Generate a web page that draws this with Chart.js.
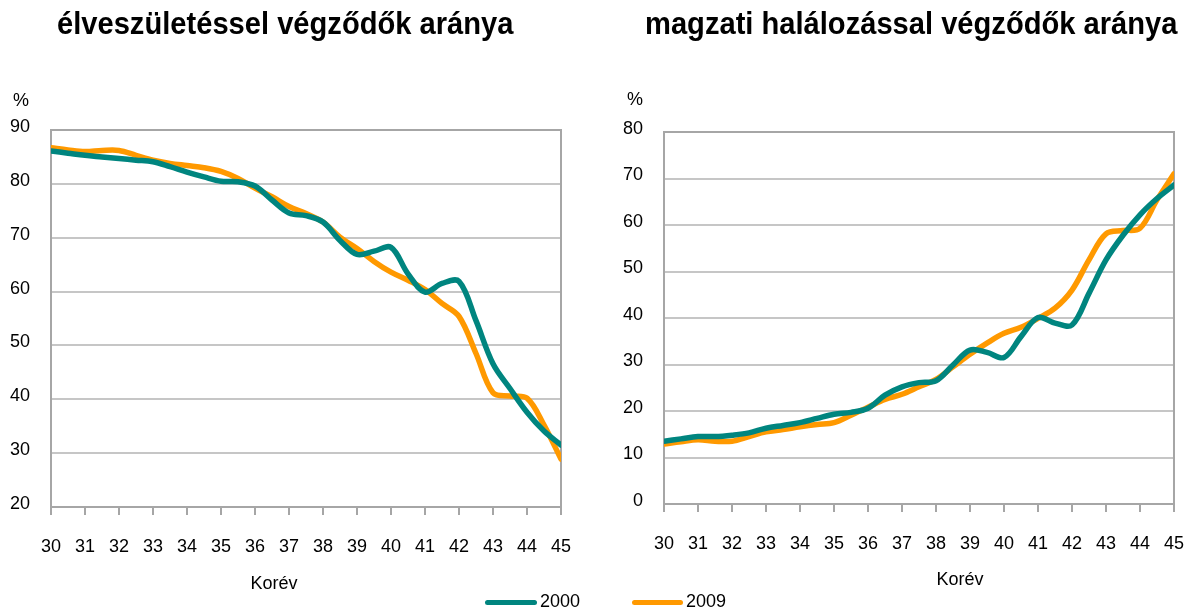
<!DOCTYPE html>
<html>
<head>
<meta charset="utf-8">
<script src="https://cdn.jsdelivr.net/npm/chart.js@4.4.0/dist/chart.umd.min.js"></script>
<style>
body { margin: 0; background: #fff; font-family: "Liberation Sans", Arial, sans-serif; color: #000; }
#wrap { position: relative; width: 1195px; height: 610px; overflow: hidden; }
canvas { position: absolute; top: 0; }
.t { position: absolute; white-space: nowrap; }
.title { font-size: 32px; font-weight: bold; line-height: 32px; top: 7px; transform: scaleX(0.91); transform-origin: 0 0; }
.lbl { font-size: 18px; line-height: 18px; }
.c { width: 100px; text-align: center; }
.key { position: absolute; height: 5px; border-radius: 3px; }
</style>
</head>
<body>
<div id="wrap">
  <canvas id="births" width="600" height="610" style="left:0"></canvas>
  <canvas id="fetal" width="605" height="610" style="left:600px"></canvas>

  <div class="t title" style="left:57px">élveszületéssel végződők aránya</div>
  <div class="t title" style="left:645px">magzati halálozással végződők aránya</div>

  <div class="t lbl" style="left:13px; top:91px">%</div>
  <div class="t lbl" style="left:627px; top:90px">%</div>

  <div class="t lbl c" style="left:224px; top:574px">Korév</div>
  <div class="t lbl c" style="left:910px; top:570px">Korév</div>

  <div class="key" style="left:485px; top:600px; width:52px; background:#00857f"></div>
  <div class="t lbl" style="left:540px; top:592px">2000</div>
  <div class="key" style="left:632px; top:600px; width:51px; background:#ff9900"></div>
  <div class="t lbl" style="left:686px; top:592px">2009</div>
</div>

<script>
// age of mother (years), read at half-year steps
var ages = [30, 30.5, 31, 31.5, 32, 32.5, 33, 33.5, 34, 34.5, 35, 35.5, 36, 36.5, 37, 37.5,
            38, 38.5, 39, 39.5, 40, 40.5, 41, 41.5, 42, 42.5, 43, 43.5, 44, 44.5, 45];
var xTicks = [30, 31, 32, 33, 34, 35, 36, 37, 38, 39, 40, 41, 42, 43, 44, 45];
var seriesNames = ['2000', '2009'];

// share of pregnancies ending in live birth, %
var birth2000 = [86.1, 85.7, 85.3, 85.0, 84.7, 84.4, 84.1, 83.2, 82.2, 81.3, 80.5, 80.4, 79.6, 77.0, 74.6, 74.1,
                 72.9, 69.5, 66.9, 67.5, 68.2, 63.3, 59.9, 61.5, 61.9, 54.6, 46.6, 42.0, 37.6, 34.1, 31.5];
var birth2009 = [86.7, 86.3, 86.0, 86.2, 86.2, 85.3, 84.4, 83.8, 83.4, 83.0, 82.3, 81.0, 79.2, 77.6, 75.8, 74.5,
                 72.9, 70.1, 68.0, 65.6, 63.6, 62.1, 60.4, 57.8, 55.4, 48.5, 41.2, 40.6, 40.2, 35.2, 28.9];

// share of pregnancies ending in fetal death, %
var fetal2000 = [13.5, 14.0, 14.5, 14.5, 14.8, 15.3, 16.3, 16.9, 17.5, 18.4, 19.3, 19.7, 20.6, 23.4, 25.2, 26.1,
                 26.5, 29.9, 33.1, 32.6, 31.5, 36.0, 40.1, 38.9, 38.5, 45.3, 52.5, 57.8, 62.2, 65.7, 68.6];
var fetal2009 = [12.9, 13.4, 13.8, 13.5, 13.5, 14.5, 15.5, 16.0, 16.6, 17.1, 17.5, 19.1, 20.8, 22.5, 23.6, 25.2,
                 26.8, 29.5, 32.2, 34.6, 36.7, 38.0, 39.9, 42.1, 46.0, 52.5, 58.1, 58.8, 59.3, 65.4, 71.0];

var colors = ['#00857f', '#ff9900'];

function pairs(values) {
    return values.map((v, i) => ({ x: ages[i], y: v }));
}

// grey frame round the plot area, under the lines
var framePlugin = {
    id: 'frame',
    beforeDatasetsDraw(chart) {
        let a = chart.chartArea;
        let ctx = chart.ctx;
        ctx.save();
        ctx.strokeStyle = '#a6a6a6';
        ctx.lineWidth = 2;
        ctx.strokeRect(a.left, a.top, a.right - a.left, a.bottom - a.top);
        ctx.restore();
    }
};

function makeChart(id, series, yMin, yMax, yWidth, pad) {
    new Chart(document.getElementById(id), {
        type: 'line',
        data: {
            datasets: series.map((s, i) => ({
                label: seriesNames[i],
                data: pairs(s),
                borderColor: colors[i],
                borderWidth: 5.5,
                pointRadius: 0,
                tension: 0.35,
                borderCapStyle: 'round',
                borderJoinStyle: 'round'
            }))
        },
        options: {
            responsive: false,
            animation: false,
            events: [],
            layout: { padding: pad },
            plugins: { legend: { display: false }, tooltip: { enabled: false } },
            scales: {
                x: {
                    type: 'linear',
                    min: 30,
                    max: 45,
                    afterFit: s => { s.height = 60; },
                    afterBuildTicks: s => { s.ticks = xTicks.map(v => ({ value: v })); },
                    grid: { drawOnChartArea: false, drawTicks: true, tickLength: 8, color: '#a6a6a6', lineWidth: 2 },
                    border: { color: '#a6a6a6', width: 2 },
                    ticks: { padding: 21, color: '#000', font: { size: 18 }, maxRotation: 0 }
                },
                y: {
                    min: yMin,
                    max: yMax,
                    afterFit: s => { s.width = yWidth; },
                    grid: { drawTicks: false, color: '#c6c6c6', lineWidth: 2 },
                    border: { color: '#a6a6a6', width: 2 },
                    ticks: { stepSize: 10, padding: 21, labelOffset: -3, color: '#000', font: { size: 18 } }
                }
            }
        },
        plugins: [framePlugin]
    });
}

Chart.defaults.font.family = '"Liberation Sans", Arial, sans-serif';

makeChart('births', [birth2000, birth2009], 20, 90, 51, { left: 0, top: 130, right: 39, bottom: 43 });
// canvas runs past the page edge so the last tick label fits; the page clips it
makeChart('fetal', [fetal2000, fetal2009], 0, 80, 64, { left: 0, top: 132, right: 31, bottom: 46 });
</script>
</body>
</html>
